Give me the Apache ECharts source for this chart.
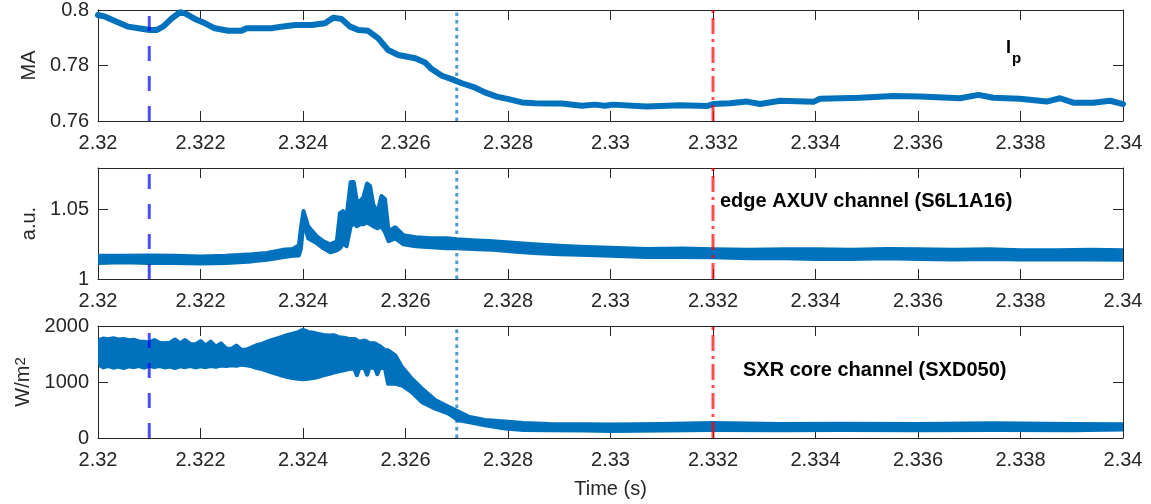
<!DOCTYPE html>
<html>
<head>
<meta charset="utf-8">
<title>Plasma current, edge AXUV and core SXR signals</title>
<script src="https://cdn.jsdelivr.net/npm/echarts@6.0.0/dist/echarts.min.js"></script>
<style>
  html, body { margin: 0; padding: 0; background: #ffffff; }
  #chart { width: 1151px; height: 504px; }
</style>
</head>
<body>
<div id="chart"></div>
<script>
// ---- time axis ----
const xTickLabels = ['2.32', '2.322', '2.324', '2.326', '2.328', '2.33', '2.332', '2.334', '2.336', '2.338', '2.34'];

// ---- event markers (s) ----
const markerTimes = [2.321, 2.327, 2.332];

// ---- plasma current Ip (MA) ----
const ipTime = [2.32000, 2.32014, 2.32033, 2.32059, 2.32079, 2.32101, 2.32115, 2.32127, 2.32144, 2.32160,
  2.32170, 2.32189, 2.32209, 2.32228, 2.32254, 2.32280, 2.32290, 2.32306, 2.32339, 2.32358,
  2.32384, 2.32417, 2.32443, 2.32459, 2.32475, 2.32492, 2.32508, 2.32527, 2.32547, 2.32566,
  2.32586, 2.32619, 2.32638, 2.32651, 2.32671, 2.32690, 2.32710, 2.32736, 2.32755, 2.32778,
  2.32801, 2.32827, 2.32853, 2.32879, 2.32905, 2.32944, 2.32970, 2.32989, 2.33005, 2.33070,
  2.33136, 2.33188, 2.33200, 2.33233, 2.33266, 2.33292, 2.33331, 2.33396, 2.33409, 2.33487,
  2.33552, 2.33604, 2.33682, 2.33718, 2.33747, 2.33799, 2.33851, 2.33877, 2.33903, 2.33942,
  2.33975, 2.34000];
const ipValue = [0.7982, 0.7976, 0.7960, 0.7940, 0.7934, 0.7928, 0.7928, 0.7940, 0.7970, 0.7992,
  0.7988, 0.7968, 0.7952, 0.7934, 0.7925, 0.7925, 0.7934, 0.7934, 0.7934, 0.7940,
  0.7946, 0.7946, 0.7952, 0.7972, 0.7968, 0.7940, 0.7928, 0.7925, 0.7898, 0.7856,
  0.7838, 0.7826, 0.7811, 0.7787, 0.7763, 0.7751, 0.7736, 0.7720, 0.7703, 0.7688,
  0.7679, 0.7667, 0.7664, 0.7663, 0.7663, 0.7655, 0.7659, 0.7655, 0.7659, 0.7652,
  0.7657, 0.7654, 0.7661, 0.7664, 0.7670, 0.7661, 0.7673, 0.7669, 0.7680, 0.7684,
  0.7690, 0.7688, 0.7682, 0.7694, 0.7684, 0.7680, 0.7670, 0.7682, 0.7666, 0.7666,
  0.7673, 0.7661];

// ---- edge AXUV channel S6L1A16 (a.u.), noise envelope ----
const axuvTime = [2.32000, 2.32050, 2.32100, 2.32150, 2.32200, 2.32250, 2.32300, 2.32330, 2.32360, 2.32380,
  2.32392, 2.32396, 2.32401, 2.32410, 2.32427, 2.32440, 2.32453, 2.32466, 2.32472, 2.32478,
  2.32485, 2.32493, 2.32499, 2.32505, 2.32512, 2.32518, 2.32525, 2.32531, 2.32537, 2.32545,
  2.32553, 2.32560, 2.32567, 2.32580, 2.32596, 2.32620, 2.32650, 2.32680, 2.32700, 2.32730,
  2.32770, 2.32810, 2.32850, 2.32900, 2.32940, 2.33000, 2.33070, 2.33140, 2.33200, 2.33270,
  2.33340, 2.33400, 2.33470, 2.33540, 2.33600, 2.33670, 2.33740, 2.33800, 2.33870, 2.33940,
  2.34000];
const axuvHigh = [1.0167, 1.0167, 1.0170, 1.0167, 1.0163, 1.0167, 1.0178, 1.0188, 1.0210, 1.0217,
  1.0243, 1.0370, 1.0490, 1.0380, 1.0308, 1.0272, 1.0250, 1.0272, 1.0475, 1.0489,
  1.0453, 1.0699, 1.0699, 1.0562, 1.0562, 1.0591, 1.0688, 1.0670, 1.0540, 1.0475,
  1.0598, 1.0576, 1.0344, 1.0373, 1.0315, 1.0301, 1.0293, 1.0293, 1.0286, 1.0279,
  1.0272, 1.0261, 1.0250, 1.0239, 1.0232, 1.0225, 1.0217, 1.0219, 1.0214, 1.0210,
  1.0214, 1.0214, 1.0210, 1.0217, 1.0214, 1.0210, 1.0214, 1.0207, 1.0207, 1.0210,
  1.0207];
const axuvLow = [1.0116, 1.0120, 1.0116, 1.0116, 1.0112, 1.0116, 1.0127, 1.0138, 1.0156, 1.0167,
  1.0170, 1.0220, 1.0420, 1.0293, 1.0257, 1.0221, 1.0192, 1.0207, 1.0221, 1.0257,
  1.0236, 1.0380, 1.0402, 1.0380, 1.0395, 1.0395, 1.0409, 1.0395, 1.0380, 1.0366,
  1.0380, 1.0337, 1.0272, 1.0293, 1.0250, 1.0236, 1.0228, 1.0221, 1.0221, 1.0217,
  1.0210, 1.0199, 1.0188, 1.0178, 1.0174, 1.0167, 1.0159, 1.0159, 1.0156, 1.0149,
  1.0149, 1.0145, 1.0145, 1.0149, 1.0145, 1.0141, 1.0145, 1.0141, 1.0141, 1.0141,
  1.0138];

// ---- core SXR channel SXD050 (W/m^2), noise envelope ----
const sxrTime = [2.32000, 2.32005, 2.3201, 2.3202, 2.3203, 2.3204, 2.3205, 2.3206, 2.3207, 2.3208, 2.3209,
  2.3210, 2.3211, 2.3212, 2.3213, 2.3214, 2.3215, 2.3216, 2.3217, 2.3218, 2.3219,
  2.3220, 2.3221, 2.3222, 2.3223, 2.3224, 2.3225, 2.3226, 2.3227, 2.3228, 2.3229,
  2.3230, 2.3231, 2.3232, 2.3233, 2.3234, 2.3235, 2.3236, 2.3237, 2.3238, 2.3239,
  2.3240, 2.3241, 2.3242, 2.3243, 2.3244, 2.3245, 2.3246, 2.3247, 2.3248, 2.3249,
  2.3250, 2.32505, 2.3251, 2.3252, 2.32525, 2.3253, 2.3254, 2.32545, 2.3255, 2.3256,
  2.32566, 2.3258, 2.32593, 2.32612, 2.32632, 2.32658, 2.32684, 2.32703, 2.32723, 2.32755,
  2.32794, 2.32830, 2.32880, 2.32950, 2.33000, 2.33100, 2.33200, 2.33330, 2.33450, 2.33600,
  2.33750, 2.33900, 2.34000];
const sxrHigh = [1700, 1760, 1775, 1765, 1780, 1760, 1770, 1745, 1755, 1725, 1720,
  1700, 1750, 1700, 1690, 1700, 1760, 1690, 1750, 1680, 1670,
  1730, 1650, 1720, 1630, 1690, 1600, 1590, 1650, 1570, 1580,
  1620, 1660, 1680, 1720, 1750, 1780, 1810, 1840, 1865, 1890,
  1930, 1895, 1880, 1860, 1840, 1830, 1835, 1800, 1790, 1770,
  1770, 1745, 1720, 1740, 1720, 1690, 1690, 1665, 1640, 1565,
  1565, 1476, 1270, 1062, 884, 677, 559, 471, 382, 321,
  293, 268, 250, 245, 240, 250, 268, 250, 255, 250,
  262, 250, 245];
const sxrLow = [1600, 1290, 1260, 1285, 1255, 1275, 1250, 1280, 1265, 1285, 1255,
  1290, 1265, 1285, 1260, 1275, 1250, 1280, 1265, 1285, 1260,
  1280, 1265, 1285, 1270, 1295, 1285, 1300, 1290, 1310, 1300,
  1280, 1250, 1230, 1200, 1170, 1140, 1110, 1090, 1070, 1060,
  1050, 1060, 1070, 1090, 1120, 1140, 1170, 1190, 1210, 1230,
  1240, 1120, 1250, 1250, 1130, 1260, 1250, 1140, 1260, 1240,
  968, 968, 938, 819, 641, 524, 435, 316, 286, 227,
  169, 144, 139, 132, 126, 135, 144, 139, 144, 140,
  144, 139, 150];

// ---- axis limits per panel ----
const yMin = [0.76, 1, 0];
const yMax = [0.8, 1.08, 2000];
const yInterval = [0.02, 0.05, 1000];
const yTickLabels = [['0.76', '0.78', '0.8'], ['1', '1.05'], ['0', '1000', '2000']];
const yNames = ['MA', 'a.u.', 'W/m{sup|2}'];

const BLUE = '#0072BD';
const INK = '#262626';
const FONT = '"Liberation Sans", Arial, Helvetica, sans-serif';

const grids = [
  { left: 98, right: 28, top: 10, height: 111 },
  { left: 98, right: 28, top: 168, height: 111 },
  { left: 98, right: 28, top: 326, height: 112 }
];

function xLabel(v) {
  const i = Math.round((v - 2.32) / 0.002);
  return Math.abs(v - (2.32 + i * 0.002)) < 1e-7 ? (xTickLabels[i] || '') : '';
}
function yLabelFor(p) {
  return function (v) {
    const i = Math.round((v - yMin[p]) / yInterval[p]);
    return Math.abs(v - (yMin[p] + i * yInterval[p])) < yInterval[p] * 1e-4 ? (yTickLabels[p][i] || '') : '';
  };
}

const xAxes = [];
const yAxes = [];
for (let p = 0; p < 3; p++) {
  const common = {
    type: 'value', gridIndex: p, min: 2.32, max: 2.34, interval: 0.002,
    axisLine: { show: true, onZero: false, lineStyle: { color: INK, width: 1 } },
    axisTick: { show: true, inside: true, length: 10, lineStyle: { color: INK, width: 1 } },
    splitLine: { show: false }
  };
  xAxes.push(Object.assign({}, common, {
    position: 'bottom',
    axisLabel: { show: true, margin: 12, color: INK, fontSize: 20, fontFamily: FONT, formatter: xLabel },
    name: p === 2 ? 'Time (s)' : '',
    nameLocation: 'middle', nameGap: 41,
    nameTextStyle: { color: INK, fontSize: 20, fontFamily: FONT }
  }));
  xAxes.push(Object.assign({}, common, { position: 'top', axisLabel: { show: false } }));

  const ycommon = {
    type: 'value', gridIndex: p, min: yMin[p], max: yMax[p], interval: yInterval[p],
    axisLine: { show: true, onZero: false, lineStyle: { color: INK, width: 1 } },
    axisTick: { show: true, inside: true, length: 10, lineStyle: { color: INK, width: 1 } },
    splitLine: { show: false }
  };
  yAxes.push(Object.assign({}, ycommon, {
    position: 'left',
    axisLabel: { show: true, margin: 9, color: INK, fontSize: 20, fontFamily: FONT, formatter: yLabelFor(p) },
    name: yNames[p], nameLocation: 'middle', nameRotate: 90,
    nameGap: p === 2 ? 59 : 55,
    nameTextStyle: {
      color: INK, fontSize: 20, fontFamily: FONT,
      rich: { sup: { fontSize: 15, fontFamily: FONT, color: INK, verticalAlign: 'top' } }
    }
  }));
  yAxes.push(Object.assign({}, ycommon, { position: 'right', axisLabel: { show: false } }));
}

// band between two envelopes, placed through the axis scales
function bandSeries(p, t, lo, hi) {
  return {
    type: 'custom', xAxisIndex: 2 * p, yAxisIndex: 2 * p, clip: true, silent: true, z: 3,
    data: [[t[0], lo[0]]],
    renderItem: function (params, api) {
      const pts = [];
      for (let i = 0; i < t.length; i++) pts.push(api.coord([t[i], hi[i]]));
      for (let i = t.length - 1; i >= 0; i--) pts.push(api.coord([t[i], lo[i]]));
      return {
        type: 'polygon', shape: { points: pts },
        style: { fill: BLUE, stroke: BLUE, lineWidth: 4, lineJoin: 'round' }
      };
    }
  };
}

const markerStyles = [
  { color: '#0000ff', type: [15, 15] },
  { color: BLUE, type: [3.5, 4] },
  { color: '#ff0000', type: [16, 5, 3, 5] }
];

const series = [
  {
    type: 'line', xAxisIndex: 0, yAxisIndex: 0, showSymbol: false, silent: true, z: 3,
    data: ipTime.map((t, i) => [t, ipValue[i]]),
    lineStyle: { color: BLUE, width: 6, join: 'round', cap: 'round' }
  },
  bandSeries(1, axuvTime, axuvLow, axuvHigh),
  bandSeries(2, sxrTime, sxrLow, sxrHigh)
];

for (let p = 0; p < 3; p++) {
  markerTimes.forEach((t, k) => {
    series.push({
      type: 'line', xAxisIndex: 2 * p, yAxisIndex: 2 * p, showSymbol: false, silent: true, z: 5,
      data: [[t, yMin[p]], [t, yMax[p]]],
      lineStyle: { color: markerStyles[k].color, width: 3, opacity: 0.7, type: markerStyles[k].type, cap: 'butt' }
    });
  });
}

const chart = echarts.init(document.getElementById('chart'), null, { renderer: 'canvas' });
chart.setOption({
  animation: false,
  backgroundColor: '#ffffff',
  textStyle: { fontFamily: FONT },
  grid: grids,
  xAxis: xAxes,
  yAxis: yAxes,
  series: series,
  graphic: [
    { type: 'text', left: 1006, top: 39, style: { text: 'I', font: 'bold 18px ' + FONT, fill: '#000000' } },
    { type: 'text', left: 1012, top: 51, style: { text: 'p', font: 'bold 15px ' + FONT, fill: '#000000' } },
    { type: 'text', left: 720, top: 191, style: { text: 'edge AXUV channel (S6L1A16)', font: 'bold 20px ' + FONT, fill: '#000000' } },
    { type: 'text', left: 743, top: 360, style: { text: 'SXR core channel (SXD050)', font: 'bold 20px ' + FONT, fill: '#000000' } }
  ]
});
</script>
</body>
</html>
